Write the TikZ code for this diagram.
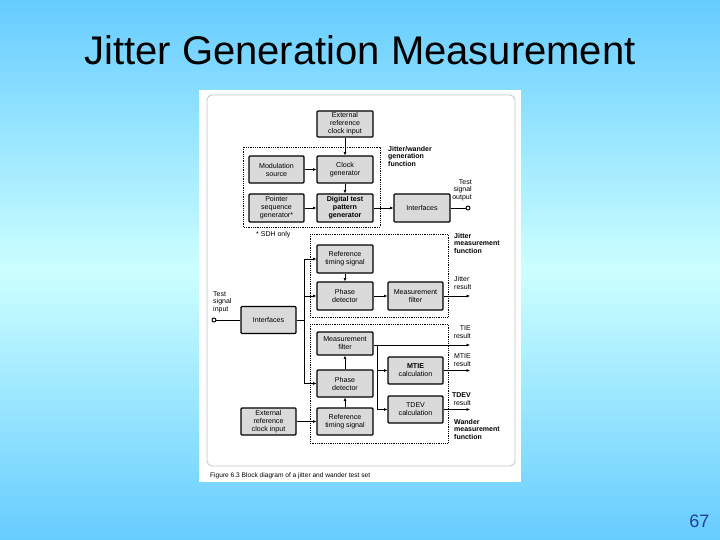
\documentclass[tikz,border=0pt]{standalone}
\usepackage{fontspec}
\setmainfont{Liberation Sans}
\usetikzlibrary{arrows.meta}
\definecolor{bgedge}{HTML}{66CCFF}
\definecolor{bgmid}{HTML}{CCFFFF}
\definecolor{boxgrey}{HTML}{DADADA}
\definecolor{framegrey}{HTML}{C4C4C4}
\definecolor{numblue}{HTML}{1F3F9F}
\tikzset{
  x=1pt, y=-1pt,
  blk/.style={draw=black, line width=1.1pt, fill=boxgrey, rounded corners=1pt,
    align=center, inner sep=0pt, minimum width=56pt, minimum height=27pt,
    font=\fontsize{7.1}{8}\selectfont},
  dotframe/.style={draw=black, densely dotted, line width=0.8pt},
  arr/.style={-{Latex[length=3.4pt,width=3pt]}, line width=0.85pt},
  ln/.style={line width=0.85pt},
  lbl/.style={inner sep=0pt, font=\fontsize{7}{7.8}\selectfont},
  blbl/.style={inner sep=0pt, align=left, font=\fontsize{7}{7.6}\selectfont\bfseries},
}
\begin{document}
\begin{tikzpicture}
\useasboundingbox (0,0) rectangle (720,540);
% background
\shade[top color=bgedge, bottom color=bgedge, middle color=bgmid] (0,0) rectangle (720,540);
% title and page number
\node (title) at (360,50) {\fontsize{40}{44}\selectfont Jitter Generation Measurement};
\node[text=numblue, anchor=east] (pnum) at (713,521) {\fontsize{18}{20}\selectfont 67};
% figure panel
\fill[white] (199,90) rectangle (521,482);
\draw[framegrey, line width=0.8pt, rounded corners=5pt] (207,95) rectangle (515,466);
\node[lbl, anchor=base west, font=\fontsize{6.6}{7.5}\selectfont] (cap) at (210,477) {Figure 6.3 Block diagram of a jitter and wander test set};

% dotted function frames
\draw[dotframe] (243,147) rectangle (380,227);
\draw[dotframe] (310,234) rectangle (448,317);
\draw[dotframe] (310,324) rectangle (448,443);

% generation blocks
\node[blk, minimum height=26pt] (extTop) at (345,124) {External\\reference\\clock input};
\node[blk, minimum width=55pt] (mod) at (276.5,169.5) {Modulation\\source};
\node[blk] (clk) at (345,169.5) {Clock\\generator};
\node[blk, minimum width=55pt, minimum height=28pt] (ptr) at (276.5,208) {Pointer\\sequence\\generator*};
\node[blk, minimum height=28pt] (dig) at (345,208) {\bfseries Digital test\\\bfseries pattern\\\bfseries generator};
\node[blk, minimum height=28pt] (ifTop) at (422,208) {Interfaces};

\node[blbl, anchor=north west] (genlbl) at (388,146) {Jitter/wander\\generation\\function};
\node[lbl, anchor=north east, align=right] (outlbl) at (472,179) {Test\\signal\\output};
\coordinate (outc) at (468,208);
\node[lbl, anchor=west] (sdh) at (256,235) {* SDH only};

\draw[arr] (extTop) -- (clk);
\draw[arr] (mod) -- (clk);
\draw[arr] (clk) -- (dig);
\draw[arr] (ptr) -- (dig);
\draw[arr] (dig) -- (ifTop);
\draw[ln] (ifTop.east) -- ([xshift=-2pt]outc);
\draw[line width=0.9pt, fill=white] (outc) circle (2pt);

% jitter measurement
\node[blk, minimum height=28pt] (refJ) at (345,259) {Reference\\timing signal};
\node[blk, minimum height=28pt] (phJ) at (345,296) {Phase\\detector};
\node[blk, minimum width=55pt, minimum height=28pt] (mfJ) at (415.5,296) {Measurement\\filter};
\node[blbl, anchor=north west] (jmlbl) at (454,233) {Jitter\\measurement\\function};
\node[lbl, anchor=north west, align=left] (jrlbl) at (454,276) {Jitter\\result};
\coordinate (jrout) at (470,296);

\draw[arr] (refJ) -- (phJ);
\draw[arr] (phJ) -- (mfJ);
\draw[arr] (mfJ) -- (jrout);

% input interfaces and bus
\node[lbl, anchor=north west, align=left] (inlbl) at (213,291) {Test\\signal\\input};
\coordinate (inc) at (214,320);
\node[blk, minimum width=55pt] (ifBot) at (268.5,320) {Interfaces};
\draw[line width=0.9pt, fill=white] (inc) circle (2pt);
\draw[ln] ([xshift=2pt]inc) -- (ifBot.west);
\coordinate (busT) at (304,259);
\coordinate (busM) at (304,296);
\coordinate (busI) at (304,320);
\coordinate (busB) at (304,383.5);
\draw[ln] (ifBot.east) -- (busI);
\draw[ln] (busT) -- (busB);

% wander measurement
\node[blk, minimum height=23pt] (mfW) at (345,343.5) {Measurement\\filter};
\node[blk] (phW) at (345,383.5) {Phase\\detector};
\node[blk] (refW) at (345,421.5) {Reference\\timing signal};
\node[blk, minimum width=55pt] (mtie) at (415.5,370.5) {\bfseries MTIE\\calculation};
\node[blk, minimum width=55pt] (tdev) at (415.5,409.5) {TDEV\\calculation};
\node[blk, minimum width=55pt] (extBot) at (268.5,421.5) {External\\reference\\clock input};
\node[blbl, anchor=north west] (wmlbl) at (454,419) {Wander\\measurement\\function};

\draw[arr] (busT) -- (refJ.west);
\draw[arr] (busM) -- (phJ.west);
\draw[arr] (busB) -- (phW.west);
\draw[arr] (refW) -- (phW);
\draw[arr] (phW) -- (mfW);
\draw[arr] (extBot) -- (refW);

\coordinate (tieout) at (470,345);
\coordinate (brT) at (377,345);
\coordinate (brM) at (377,370.5);
\coordinate (brB) at (377,409.5);
\coordinate (mtieout) at (470,370.5);
\coordinate (tdevout) at (470,409.5);
\draw[arr] (mfW.east |- tieout) -- (tieout);
\draw[ln] (brT) -- (brB);
\draw[arr] (brM) -- (mtie.west);
\draw[arr] (brB) -- (tdev.west);
\draw[arr] (mtie) -- (mtieout);
\draw[arr] (tdev) -- (tdevout);
\node[lbl, anchor=south east, align=right] (tielbl) at (471,339) {TIE\\result};
\node[lbl, anchor=south east, align=right] (mtielbl) at (471,367) {MTIE\\result};
\node[lbl, anchor=south east, align=right] (tdevlbl) at (471,406) {\textbf{TDEV}\\result};
\end{tikzpicture}
\end{document}
